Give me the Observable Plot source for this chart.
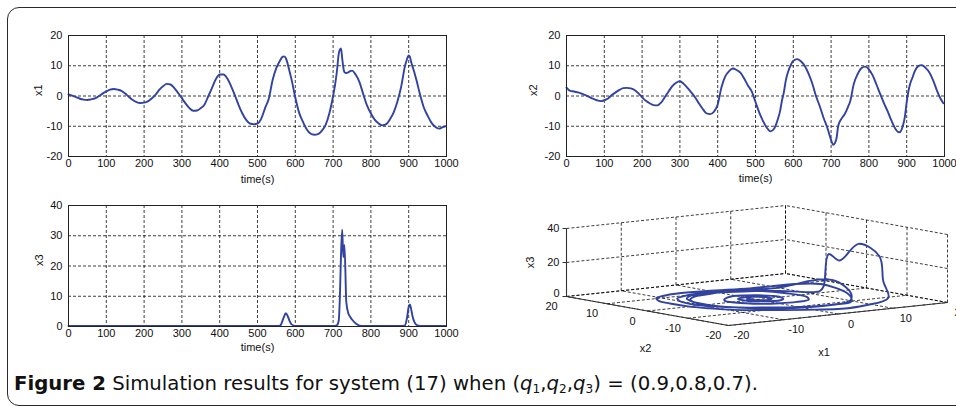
<!DOCTYPE html>
<html>
<head>
<meta charset="utf-8">
<script src="https://cdn.jsdelivr.net/npm/d3@7"></script>
<script src="https://cdn.jsdelivr.net/npm/@observablehq/plot@0.6"></script>
<style>
  html, body { margin: 0; padding: 0; background: #fff; overflow: hidden; }
  #page { position: relative; width: 956px; height: 407px; overflow: hidden; }
  #border { position: absolute; left: 7px; top: 7px; width: 1000px; height: 397px;
            border: 1.5px solid #2a2a2a; border-radius: 12px; }
  .panel { position: absolute; }
  #caption { position: absolute; left: 14px; top: 372px; white-space: nowrap;
             font-family: "DejaVu Sans", sans-serif; font-stretch: condensed;
             font-size: 19.5px; color: #111; transform-origin: 0 0; }
  #caption sub { font-size: 12px; vertical-align: -3px; line-height: 0; }
</style>
</head>
<body>
<div id="page">
  <div id="border"></div>
  <div id="caption"><b>Figure 2</b> Simulation results for system (17) when (<i>q</i><sub>1</sub>,<i>q</i><sub>2</sub>,<i>q</i><sub>3</sub>) = (0.9,0.8,0.7).</div>
</div>
<script>
// ---------- data ----------
const time = [0,10,20,30,40,50,60,70,80,90,100,110,120,130,140,150,160,170,180,190,200,
  210,220,230,240,250,260,270,280,290,300,310,320,330,340,350,360,370,380,390,400,
  410,420,430,440,450,460,470,480,490,500,510,520,530,540,550,560,565,570,575,580,585,590,
  600,610,620,630,640,650,660,670,680,690,700,705,710,715,718,721,724,727,730,735,740,745,750,
  760,770,780,790,800,810,820,830,840,850,860,870,880,890,895,900,903,906,910,915,920,
  930,940,950,960,970,980,990,997];

const x1Values = [0.5,0.1,-0.4,-0.9,-1.2,-1.3,-1.1,-0.8,-0.1,0.8,1.5,2.1,2.3,2.1,1.7,0.8,-0.3,-1.3,-2.0,-2.3,-2.2,
  -1.8,-0.8,0.4,2.0,3.2,4.0,3.8,2.6,1.0,-0.7,-2.5,-4.0,-4.9,-4.8,-4.0,-2.8,0.0,2.8,5.6,7.1,
  7.1,5.8,3.3,0.3,-3.0,-5.8,-7.9,-9.1,-9.3,-9.1,-7.5,-4.0,-0.8,5.3,9.3,11.8,12.8,13.1,12.5,10.6,8.0,5.5,
  -0.5,-5.5,-8.5,-11.0,-12.4,-12.8,-12.6,-11.5,-9.6,-5.8,0.0,3.5,8.1,14.0,15.3,15.7,12.5,9.5,7.9,7.6,7.8,8.2,8.4,
  7.0,4.5,0.5,-3.2,-5.8,-7.8,-9.0,-9.7,-9.4,-7.8,-5.5,-1.9,3.0,9.8,12.0,13.4,13.0,11.5,9.8,7.8,5.5,
  0.5,-3.8,-6.5,-8.8,-10.2,-10.8,-10.3,-10.0];

const x2Values = [2.8,1.7,1.5,1.2,0.8,0.3,-0.3,-0.9,-1.4,-1.7,-1.4,-0.8,0.3,1.2,2.0,2.6,2.7,2.5,2.0,0.9,-0.4,
  -1.6,-2.4,-3.0,-3.1,-2.2,-0.4,1.5,3.3,4.4,4.9,4.0,2.7,1.2,-0.4,-2.4,-4.2,-5.7,-6.0,-5.2,-2.8,
  2.9,6.5,8.2,9.1,8.6,7.7,5.8,3.5,1.5,-2.0,-5.5,-8.3,-10.5,-11.7,-10.7,-7.3,-5.0,-1.5,1.2,5.0,7.5,9.3,
  11.6,12.2,11.5,10.0,7.5,4.2,0.0,-3.4,-7.2,-10.5,-14.5,-16.1,-15.6,-13.5,-10.5,-9.0,-8.2,-7.6,-7.0,-6.2,-5.0,-3.5,-2.0,
  4.0,7.2,9.2,9.7,8.8,6.8,3.8,0.6,-2.4,-5.2,-8.2,-10.8,-12.0,-9.8,-7.0,-2.0,0.5,2.5,4.4,6.0,7.8,
  9.8,10.2,9.3,7.8,5.2,1.8,-1.0,-2.4];

const x3Values = [0.2,0.2,0.2,0.2,0.2,0.2,0.2,0.2,0.2,0.2,0.2,0.2,0.2,0.2,0.2,0.2,0.2,0.2,0.2,0.2,0.2,
  0.2,0.2,0.2,0.2,0.2,0.2,0.2,0.2,0.2,0.2,0.2,0.2,0.2,0.2,0.2,0.2,0.2,0.2,0.2,0.2,
  0.2,0.2,0.2,0.2,0.2,0.2,0.2,0.2,0.2,0.2,0.2,0.2,0.2,0.2,0.2,0.3,1.5,3.2,4.4,3.4,1.8,0.7,
  0.2,0.2,0.2,0.2,0.2,0.2,0.2,0.2,0.2,0.2,0.2,0.2,0.4,2.0,10.0,24.0,32.0,23.0,27.0,8.0,4.5,3.2,2.3,
  1.0,0.3,0.2,0.2,0.2,0.2,0.2,0.2,0.2,0.2,0.2,0.2,0.2,0.4,2.5,6.5,7.3,6.0,3.5,1.5,0.6,
  0.2,0.2,0.2,0.2,0.2,0.2,0.2,0.2];

const timeTicks = [0,100,200,300,400,500,600,700,800,900,1000];
const stateTicks = [-20,-10,0,10,20];
const x3Ticks = [0,10,20,30,40];
const cubeTicks = [-20,-10,0,10,20];
const cubeZTicks = [0,20,40];

// ---------- styling ----------
const lineColor = "#3142a1";
const textColor = "#111";
const gridStyle = {stroke: "#000", strokeDasharray: "3,2", strokeWidth: 0.85, strokeOpacity: 0.9};
const font = "Arial, 'Liberation Sans', Helvetica, sans-serif";
const fs = 11;
const page = document.getElementById("page");

function timePanel({values, yDomain, yTicks, yLabel, left, top, labelDx, titleDy}) {
  const data = time.map((t, i) => ({t, v: values[i]}));
  const gridY = yTicks.slice(1, -1);
  const gridX = timeTicks.slice(1, -1);
  const chart = Plot.plot({
    width: 440, height: 176,
    marginLeft: 38, marginRight: 24, marginTop: 10, marginBottom: 45,
    style: {fontFamily: font, fontSize: fs + "px", color: textColor, background: "transparent", overflow: "visible"},
    x: {domain: [0, 1000]},
    y: {domain: yDomain},
    marks: [
      Plot.ruleX(gridX, gridStyle),
      Plot.ruleY(gridY, gridStyle),
      Plot.line(data, {x: "t", y: "v", stroke: lineColor, strokeWidth: 1.9, curve: "monotone-x"}),
      Plot.frame({stroke: "#222", strokeWidth: 1}),
      Plot.axisX({ticks: timeTicks, tickSize: 0, tickPadding: 3, label: null, tickFormat: d => String(d), fontFamily: font, fill: textColor}),
      Plot.axisY({ticks: yTicks, tickSize: 0, tickPadding: 6, label: null, tickFormat: d => String(d), fontFamily: font, fill: textColor}),
      Plot.text(["time(s)"], {frameAnchor: "bottom", dy: titleDy, text: d => d, fontSize: fs, fontFamily: font, fill: textColor}),
      Plot.text([yLabel], {frameAnchor: "left", dx: labelDx, rotate: -90, text: d => d, fontSize: fs, fontFamily: font, fill: textColor})
    ]
  });
  chart.classList.add("panel");
  chart.style.left = left + "px";
  chart.style.top = top + "px";
  page.appendChild(chart);
}

timePanel({values: x1Values, yDomain: [-20, 20], yTicks: stateTicks, yLabel: "x1", left: 30, top: 25, labelDx: -30, titleDy: 26});
timePanel({values: x2Values, yDomain: [-20, 20], yTicks: stateTicks, yLabel: "x2", left: 528, top: 25, labelDx: -33, titleDy: 25});
timePanel({values: x3Values, yDomain: [0, 40], yTicks: x3Ticks, yLabel: "x3", left: 30, top: 195, labelDx: -29, titleDy: 24});

// ---------- 3D phase portrait (oblique projection of (x1, x2, x3)) ----------
const W3 = 466, H3 = 175;
const origin = [238, 135];        // corner x1=-20, x2=-20, x3=0 in panel units
const ax1 = [219, -23], ax2 = [-162, -29], ax3 = [0, -68]; // full-range edge vectors
function proj(a, b, c) {
  const u = (a + 20) / 40, v = (b + 20) / 40, w = c / 40;
  return [origin[0] + u * ax1[0] + v * ax2[0] + w * ax3[0],
          origin[1] + u * ax1[1] + v * ax2[1] + w * ax3[1]];
}
const seg = (p, q) => ({p: proj(...p), q: proj(...q)});
const gridSegs = [];
for (const a of cubeTicks) { gridSegs.push(seg([a, 20, 0], [a, 20, 40])); gridSegs.push(seg([a, -20, 0], [a, 20, 0])); }
for (const b of cubeTicks) { gridSegs.push(seg([20, b, 0], [20, b, 40])); gridSegs.push(seg([-20, b, 0], [20, b, 0])); }
for (const c of cubeZTicks) { gridSegs.push(seg([-20, 20, c], [20, 20, c])); gridSegs.push(seg([20, -20, c], [20, 20, c])); }
const axisSegs = [seg([-20, 20, 0], [-20, 20, 40]), seg([-20, -20, 0], [-20, 20, 0]), seg([-20, -20, 0], [20, -20, 0])];
const zTickSegs = cubeZTicks.map(c => { const p = proj(-20, 20, c); return {p, q: [p[0] - 4, p[1]]}; });
const trajectory = time.map((t, i) => proj(x1Values[i], x2Values[i], x3Values[i]));

const x2Labels = cubeTicks.map(b => ({pos: proj(-20, b, 0), text: String(b)}));
const x1Labels = cubeTicks.map(a => ({pos: proj(a, -20, 0), text: String(a)}));
const zLabels = cubeZTicks.map(c => ({pos: proj(-20, 20, c), text: String(c), dy: c === 0 ? -3 : 0}));
const linkOpts = {x1: d => d.p[0], y1: d => d.p[1], x2: d => d.q[0], y2: d => d.q[1]};

const cube = Plot.plot({
  width: W3, height: H3, margin: 0,
  style: {fontFamily: font, fontSize: fs + "px", color: textColor, background: "transparent", overflow: "visible"},
  x: {domain: [0, W3], range: [0, W3], axis: null},
  y: {domain: [0, H3], range: [0, H3], axis: null},
  marks: [
    Plot.link(gridSegs, {...linkOpts, ...gridStyle}),
    Plot.link(axisSegs, {...linkOpts, stroke: "#333", strokeWidth: 1.1}),
    Plot.link(zTickSegs, {...linkOpts, stroke: "#333", strokeWidth: 1}),
    Plot.line(trajectory, {x: d => d[0], y: d => d[1], stroke: lineColor, strokeWidth: 1.9, curve: "catmull-rom"}),
    Plot.text(x2Labels, {x: d => d.pos[0], y: d => d.pos[1], text: "text", dx: -15, dy: 10, fill: textColor, fontFamily: font}),
    Plot.text(x1Labels, {x: d => d.pos[0], y: d => d.pos[1], text: "text", dx: 13, dy: 10, fill: textColor, fontFamily: font}),
    Plot.text(zLabels, {x: d => d.pos[0], y: d => d.pos[1] + d.dy, text: "text", dx: -7, textAnchor: "end", fill: textColor, fontFamily: font}),
    Plot.text(["x2"], {x: () => proj(-20, 0, 0)[0], y: () => proj(-20, 0, 0)[1], text: d => d, dx: -2, dy: 37, fill: textColor, fontFamily: font}),
    Plot.text(["x1"], {x: () => proj(0, -20, 0)[0], y: () => proj(0, -20, 0)[1], text: d => d, dx: -14, dy: 38, fill: textColor, fontFamily: font}),
    Plot.text(["x3"], {x: () => proj(-20, 20, 20)[0], y: () => proj(-20, 20, 20)[1], text: d => d, dx: -36, rotate: -90, fill: textColor, fontFamily: font})
  ]
});
cube.classList.add("panel");
cube.style.left = "490px";
cube.style.top = "190px";
page.appendChild(cube);

// caption width fit
const cap = document.getElementById("caption");
const w = cap.getBoundingClientRect().width;
cap.style.transform = `scaleX(${744 / w})`;
</script>
</body>
</html>
